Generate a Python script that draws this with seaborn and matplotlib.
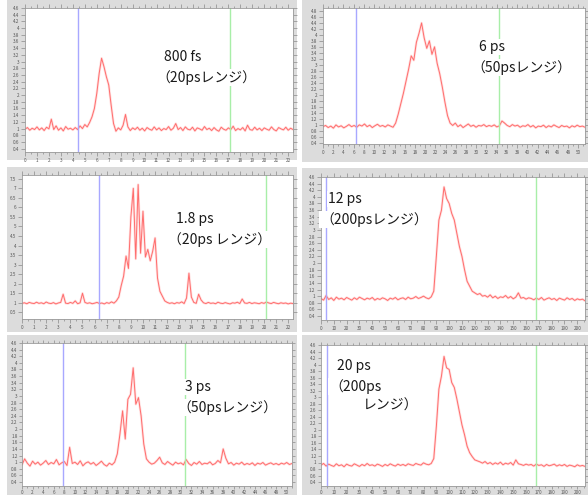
import numpy as np
import pandas as pd
import matplotlib
matplotlib.use("Agg")
import matplotlib.pyplot as plt
import seaborn as sns
from matplotlib.ticker import MultipleLocator, FuncFormatter

# signal traces (baseline ~1, one pulse each)
tl_y = [0.98, 1.03, 0.95, 1.01, 0.97, 1.05, 0.96, 1.02, 0.94, 1.04, 0.99,
        1.28, 0.97, 1.08, 0.95, 1.02, 0.93, 1.06, 0.98, 1.01, 0.96,
        1.03, 0.97, 1.08, 1.00, 1.12, 1.05, 1.18,
        1.35, 1.60, 2.05, 2.65, 3.10, 2.85, 2.55, 2.30, 1.70, 1.15,
        0.92, 1.02, 0.96, 1.10, 1.42, 1.05, 0.94, 1.02,
        0.97, 1.04, 0.95, 1.01, 0.93, 1.03, 0.98, 0.95, 1.05, 0.96, 1.02, 0.94,
        1.00, 0.97, 1.06, 0.95, 1.01, 1.15, 0.97, 1.03, 0.94, 1.05, 0.98, 0.96,
        1.04, 0.93, 1.02, 0.99, 0.95, 1.06, 0.97, 1.01, 0.94, 1.03, 0.96, 0.92,
        1.04, 0.98, 0.95, 1.02, 0.97, 1.07, 0.94, 1.00, 0.96, 1.03, 0.93, 1.10,
        0.97, 0.95, 1.04, 0.96, 1.01, 0.94, 1.02, 0.98, 0.95, 1.05, 0.97, 0.93,
        1.03, 0.99, 0.96, 1.04, 0.95, 1.01, 0.97]

tr_y = [0.93, 0.97, 0.90, 0.95, 0.88, 0.99, 0.92, 0.96, 0.89, 0.94, 1.00, 0.93,
        0.97, 0.91, 0.99, 0.95, 1.02, 0.93, 0.98, 0.90, 0.96, 1.01, 0.94, 0.97,
        0.92, 0.99, 0.95, 0.91,
        1.05, 1.35, 1.70, 2.05, 2.45, 2.85, 3.30, 3.15, 3.75, 4.05, 4.40, 3.90,
        3.55, 3.80, 3.35, 3.60, 3.05, 2.70, 2.25, 1.75, 1.30, 1.05, 0.97,
        1.05, 0.93, 0.99, 0.90, 0.96, 1.02, 0.94, 0.98, 0.91, 0.97, 0.95, 1.00,
        0.93, 0.97, 0.94, 0.99, 0.92, 0.96, 1.12, 1.05, 0.97, 0.93, 1.00, 0.95,
        0.98, 0.91, 0.96, 0.94, 1.00, 0.92, 0.97, 0.89, 0.95, 0.93, 0.98, 0.90,
        0.96, 0.92, 0.99, 0.94, 0.90, 0.97, 0.93, 0.95, 0.89, 0.96, 0.92, 0.98,
        0.93, 0.95, 0.91]

ml_y = [0.97, 1.00, 0.95, 1.02, 0.98, 0.96, 1.03, 0.97, 1.00, 0.95, 1.04, 0.98,
        0.96, 1.01, 0.94, 0.99, 1.02,
        1.45, 0.98, 0.96, 1.02, 0.97, 1.10, 0.95, 1.00,
        1.50, 1.02, 0.97, 1.00, 0.95, 0.98, 1.02, 0.96, 0.99, 0.94, 1.01, 0.97,
        1.05, 0.98, 1.10,
        1.30, 1.90, 2.40, 3.45, 2.80, 5.50, 7.00, 3.30, 7.20, 3.60, 5.80, 3.40,
        3.80, 3.20, 3.70, 4.40, 2.30, 1.60, 1.35, 1.10,
        1.02, 0.97, 1.00, 0.95, 1.01, 0.98, 1.05, 0.96, 1.25, 2.55, 1.30, 1.02,
        0.97, 1.45, 1.15, 1.00, 0.96, 1.02, 0.97, 0.99, 0.95, 1.03, 0.98, 0.96,
        1.01, 0.97, 0.94, 1.00, 0.98, 1.03, 0.96, 1.20, 0.99, 0.97, 1.02, 0.96,
        1.00, 0.98, 0.95, 1.01, 0.97, 1.04, 0.99, 0.96, 1.02, 0.98, 0.95, 1.00,
        0.97, 0.99, 0.94, 0.98, 0.96]

mr_y = [0.93, 0.88, 1.02, 0.90, 0.95, 0.87, 0.97, 0.91, 0.94, 0.89, 0.96, 0.92,
        0.88, 0.95, 0.90, 0.97, 0.93, 0.89, 0.94, 0.91, 0.96, 0.88, 0.93, 0.90,
        0.95, 0.92, 0.87, 0.94, 0.91, 0.96, 0.89, 0.93, 0.95, 0.90, 0.97, 0.92,
        0.94, 0.99, 0.93, 0.96, 1.00, 0.95, 0.92, 0.98,
        1.15, 2.20, 3.30, 3.60, 4.30, 3.95, 3.80, 3.50, 3.30, 2.90, 2.50, 2.20,
        1.80, 1.45, 1.30, 1.15, 1.10, 1.05, 1.08, 1.00,
        1.02, 0.97, 1.04, 0.95, 1.00, 0.93, 0.98, 0.96, 1.02, 0.94, 0.99, 0.92,
        0.97, 1.10, 0.94, 0.96, 0.91, 0.95, 0.93, 0.89, 0.94, 0.90, 0.96, 0.88,
        0.92, 0.95, 0.90, 0.93, 0.87, 0.94, 0.91, 0.88, 0.95, 0.90, 0.93, 0.87,
        0.92, 0.89, 0.91, 0.86]

bl_y = [0.92, 1.10, 0.97, 0.88, 1.03, 0.94, 1.00, 0.91, 0.97, 1.05, 0.93, 0.99,
        0.95, 1.08, 0.92, 0.98, 1.02, 0.90, 1.45, 0.96, 1.00, 0.93, 1.04, 0.89,
        0.97, 1.01, 0.94, 0.99, 0.90, 0.96, 1.03, 0.93, 0.88, 0.97, 0.92, 1.00,
        1.25, 1.85, 2.55, 1.70, 2.90, 3.05, 3.85, 2.75, 2.95, 2.40, 1.55, 1.10,
        1.00, 0.94, 0.97, 1.05, 1.15, 0.98, 0.93, 1.02, 0.96, 0.91, 1.00, 0.95,
        0.98, 0.92, 1.08, 0.96, 0.90, 0.99, 0.94, 1.02, 0.93, 0.97, 0.95, 1.01,
        0.92, 0.96, 1.05, 0.98, 1.40, 1.12, 0.95, 0.99, 0.91, 0.97, 0.94, 1.00,
        0.92, 0.96, 0.93, 0.98, 0.90, 0.97, 0.94, 0.99, 0.91, 0.95, 0.98, 0.93,
        0.96, 0.92, 0.97, 0.94, 0.99, 0.93, 0.96]

br_y = [0.92, 0.97, 0.89, 0.95, 0.91, 0.88, 0.96, 0.90, 0.93, 0.87, 0.95, 0.91,
        0.89, 0.96, 0.92, 0.88, 0.94, 0.90, 0.97, 0.91, 0.93, 0.89, 0.95, 0.92,
        0.88, 0.94, 0.90, 0.96, 0.92, 0.89, 0.95, 0.91, 0.94, 0.90, 0.96, 0.93,
        0.91, 0.97, 0.94, 0.92, 0.99, 0.95, 0.93, 0.97,
        1.12, 2.10, 3.25, 3.65, 4.25, 3.90, 3.85, 3.45, 3.30, 2.95, 2.55, 2.15,
        1.85, 1.50, 1.30, 1.18, 1.08, 1.05, 1.02, 0.98,
        1.03, 0.96, 1.00, 0.94, 0.99, 0.95, 1.01, 0.93, 0.98, 0.95, 1.00, 0.92,
        1.08, 0.96, 0.94, 0.91, 0.95, 0.92, 0.94, 0.89, 0.95, 0.91, 0.93, 0.88,
        0.94, 0.90, 0.92, 0.95, 0.89, 0.93, 0.90, 0.94, 0.88, 0.92, 0.90, 0.87,
        0.93, 0.89, 0.91, 0.88]

# time span (x range) of each trace, cursor positions, labels
spans = [22.4, 51.3, 22.4, 206, 51.0, 206]
blue_cursor = [4.4, 6.5, 6.4, 4.0, 7.7, 4.4]
green_cursor = [17.1, 34.5, 20.2, 168, 30.7, 168]
labels = [["800 fs", "（20psレンジ）"], ["6 ps", "（50psレンジ）"],
          ["1.8 ps", "（20ps レンジ）"], ["12 ps", "（200psレンジ）"],
          ["3 ps", "（50psレンジ）"], ["20 ps", "（200ps", "レンジ）"]]

W, H = 588, 495
sns.set_style("white")
plt.rcParams['font.family'] = ['Noto Sans CJK JP', 'DejaVu Sans']
fig = plt.figure(figsize=(W / 100, H / 100), dpi=100)


def rect(x0, y0, x1, y1):
    return [x0 / W, 1 - y1 / H, (x1 - x0) / W, (y1 - y0) / H]


def panel(frame, box, y, span, ylim, xstep, ystep, blue, green, ticklen=3):
    bg = fig.add_axes(rect(*frame))
    bg.set_facecolor('#dcdcdc')
    bg.set_xticks([])
    bg.set_yticks([])
    for s in bg.spines.values():
        s.set_visible(False)

    ax = fig.add_axes(rect(*box))
    ax.set_facecolor('white')
    df = pd.DataFrame({"t": np.linspace(0, span, len(y)), "v": y})
    sns.lineplot(data=df, x="t", y="v", ax=ax, color='#ff8080', lw=1.8, alpha=0.25)
    sns.lineplot(data=df, x="t", y="v", ax=ax, color='#ff6060', lw=0.7, alpha=0.9)
    ax.axvline(blue, color='#a8a8ff', lw=1.0)
    ax.axvline(green, color='#a8eea8', lw=1.0)
    ax.set_xlim(0, span)
    ax.set_ylim(*ylim)
    ax.set_xlabel("")
    ax.set_ylabel("")
    ax.xaxis.set_major_locator(MultipleLocator(xstep))
    ax.xaxis.set_minor_locator(MultipleLocator(xstep / 2))
    ax.yaxis.set_major_locator(MultipleLocator(ystep))
    fmt = FuncFormatter(lambda v, p: "%g" % round(v, 2))
    ax.xaxis.set_major_formatter(fmt)
    ax.yaxis.set_major_formatter(fmt)
    ax.tick_params(which='both', direction='out', color='#8a8a8a', width=0.5,
                   top=True, right=True, bottom=True, left=True,
                   labelsize=3.3, labelcolor='#555555', pad=1.2)
    ax.tick_params(which='major', length=ticklen)
    ax.tick_params(which='minor', length=ticklen * 0.6)
    for s in ax.spines.values():
        s.set_color('#9a9a9a')
        s.set_linewidth(0.6)
    return ax


panel((7, 0, 297, 160), (25, 8, 293, 152), tl_y, spans[0], (0.3, 4.6), 1, 0.2,
      blue_cursor[0], green_cursor[0])
panel((302, 0, 588, 162), (323, 8, 585, 144), tr_y, spans[1], (0.35, 4.9), 2, 0.2,
      blue_cursor[1], green_cursor[1])
panel((7, 167, 297, 332), (22, 175, 293, 319), ml_y, spans[2], (0.15, 7.7), 1, 0.5,
      blue_cursor[2], green_cursor[2])
panel((302, 168, 588, 332), (321, 177, 585, 320), mr_y, spans[3], (0.28, 4.6), 10, 0.2,
      blue_cursor[3], green_cursor[3])
panel((7, 335, 297, 495), (22, 343, 292, 486), bl_y, spans[4], (0.28, 4.6), 2, 0.2,
      blue_cursor[4], green_cursor[4], ticklen=2)
panel((302, 335, 588, 495), (321, 345, 585, 486), br_y, spans[5], (0.28, 4.6), 10, 0.2,
      blue_cursor[5], green_cursor[5], ticklen=2)

text_pos = [(164, 50), (479, 40), (176, 212), (328, 192), (185, 380), (337, 359)]
for (px, py), lines in zip(text_pos, labels):
    for i, line in enumerate(lines):
        if line.startswith("（"):
            dx = -8
        elif i == 2:
            dx = 26
        else:
            dx = 0
        fig.text((px + dx) / W, 1 - (py + 20 * i) / H, line, fontsize=10,
                 va='top', ha='left', color='#1a1a1a',
                 bbox=dict(facecolor='white', edgecolor='none', pad=1))

fig.savefig("out.png", dpi=100)
